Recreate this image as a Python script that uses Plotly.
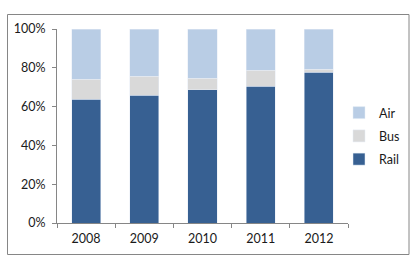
import plotly.graph_objects as go

years = ["2008", "2009", "2010", "2011", "2012"]
rail = [63.7, 65.8, 68.8, 70.5, 77.7]
bus = [10.3, 9.9, 5.9, 8.3, 1.6]
air = [26.0, 24.3, 25.3, 21.2, 20.7]
y_ticks = [0, 20, 40, 60, 80, 100]
y_tick_labels = ["0%", "20%", "40%", "60%", "80%", "100%"]

fig = go.Figure()
fig.add_trace(go.Bar(x=years, y=rail, name="Rail", marker_color="#376092", legendgroup="r", legendrank=3))
fig.add_trace(go.Bar(x=years, y=bus, name="Bus", marker_color="#D9D9D9", legendgroup="b", legendrank=2))
fig.add_trace(go.Bar(x=years, y=air, name="Air", marker_color="#B9CDE5", legendgroup="a", legendrank=1))

W, H = 417, 262
L, R, T, B = 57, 69, 29, 39
pw, ph = W - L - R, H - T - B

def px(x):
    return (x - L) / pw

def py(y):
    return (H - B - y) / ph

fig.update_layout(
    width=W, height=H,
    margin=dict(l=L, r=R, t=T, b=B, autoexpand=False),
    barmode="stack", bargap=0.5,
    plot_bgcolor="white", paper_bgcolor="white",
    font=dict(family="Lato", size=12, color="#1a1a1a"),
    showlegend=True,
    legend=dict(x=px(339), y=py(98), xanchor="left", yanchor="top",
                traceorder="grouped", tracegroupgap=4,
                font=dict(size=12.5), itemwidth=30),
    xaxis=dict(showline=True, linecolor="#868686", ticks="outside", tickson="boundaries",
               ticklen=4, tickcolor="#868686", showgrid=False, fixedrange=True,
               ticklabelstandoff=4, tickfont=dict(size=12.5)),
    yaxis=dict(range=[0, 100], tickvals=y_ticks, ticktext=y_tick_labels, showline=True,
               linecolor="#868686", ticks="outside", ticklen=4, tickcolor="#868686",
               ticklabelstandoff=4, tickfont=dict(size=12.5),
               showgrid=False, zeroline=False),
    shapes=[dict(type="rect", xref="paper", yref="paper",
                 x0=px(7.5), x1=px(409), y0=py(254.5), y1=py(14.5),
                 line=dict(color="#868686", width=1), fillcolor="rgba(0,0,0,0)")],
)

fig.write_html("out.html", config={"displayModeBar": False},
               post_script="document.body.style.margin='0';")
